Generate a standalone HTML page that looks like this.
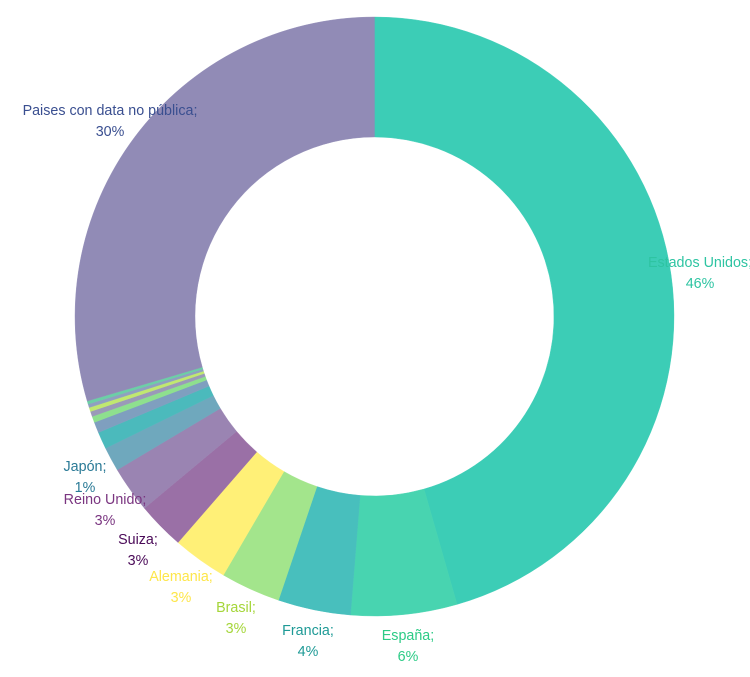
<!DOCTYPE html>
<html><head><meta charset="utf-8"><style>
html,body{margin:0;padding:0;background:#fff;width:750px;height:677px;overflow:hidden}
svg text{font-family:"Liberation Sans",Arial,sans-serif;font-size:14.3px;text-anchor:middle}
</style></head><body>
<svg width="750" height="677" viewBox="0 0 750 677" id="s"></svg>
<script>
var cx=374.5,cy=316.5,R=299.5,r=179.5;
var sl=[[0,164,"#3ccdb6"],[164,184.6,"#48d4b0"],[184.6,198.7,"#48bfbd"],[198.7,210.3,"#a3e58c"],[210.3,221,"#fff077"],[221,230.2,"#9a70a6"],[230.2,239.2,"#9a84b2"],[239.2,243.9,"#6fa8bd"],[243.9,247.2,"#4bbabc"],[247.2,249.3,"#7f9fbf"],[249.3,250.5,"#8ee08e"],[250.5,251.5,"#9a9ab8"],[251.5,252.3,"#c0e870"],[252.3,253,"#8fa0c0"],[253,253.6,"#6ccfa6"],[253.6,360,"#918bb6"]];
function p(a,rad){a=a*Math.PI/180;return (cx+rad*Math.sin(a)).toFixed(2)+","+(cy-rad*Math.cos(a)).toFixed(2);}
var h="";
sl.forEach(function(s){var l=(s[1]-s[0])>180?1:0;
h+='<path fill="'+s[2]+'" stroke="'+s[2]+'" stroke-width="0.4" d="M'+p(s[0],R)+' A'+R+','+R+' 0 '+l+' 1 '+p(s[1],R)+' L'+p(s[1],r)+' A'+r+','+r+' 0 '+l+' 0 '+p(s[0],r)+' Z"/>';});
var L=[["Estados Unidos;","46%",700,267,"#2ec4a2"],["España;","6%",408,640,"#2ccb86"],["Francia;","4%",308,635,"#1e9a96"],["Brasil;","3%",236,612,"#a5d63a"],["Alemania;","3%",181,581,"#fde64a"],["Suiza;","3%",138,544,"#4a0a58"],["Reino Unido;","3%",105,504,"#7a3580"],["Japón;","1%",85,471,"#2a7a96"],["Paises con data no pública;","30%",110,115,"#3a4f90"]];
L.forEach(function(t){h+='<text x="'+t[2]+'" y="'+t[3]+'" fill="'+t[4]+'">'+t[0]+'</text><text x="'+t[2]+'" y="'+(t[3]+21)+'" fill="'+t[4]+'">'+t[1]+'</text>';});
document.getElementById('s').innerHTML=h;
</script>
</body></html>
